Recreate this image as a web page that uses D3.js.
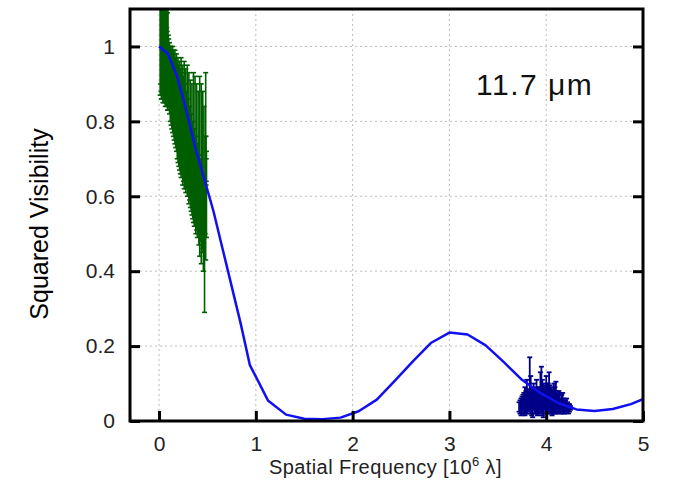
<!DOCTYPE html>
<html>
<head>
<meta charset="utf-8">
<script src="https://cdn.jsdelivr.net/npm/d3@7"></script>
<style>
  body { margin: 0; background: #fff; }
  svg { display: block; }
</style>
</head>
<body>
<div id="chart"></div>
<script>
// Model curve (squared visibility vs spatial frequency, 10^6 lambda)
const modelFreq = [0, 0.09375, 0.1875, 0.28125, 0.375, 0.46875, 0.5625, 0.65625, 0.75, 0.84375, 0.9375, 1.125,
    1.3125, 1.5, 1.6875, 1.875, 2.0625, 2.25, 2.4375, 2.625, 2.8125, 3.0, 3.1875, 3.375, 3.5625, 3.75, 3.9375,
    4.125, 4.3125, 4.5, 4.6875, 4.875, 5.0625];
const modelV2 = [1.0, 0.98, 0.92, 0.83, 0.73, 0.645, 0.56, 0.46, 0.36, 0.26, 0.15, 0.055, 0.017, 0.006, 0.005,
    0.009, 0.026, 0.057, 0.108, 0.16, 0.209, 0.236, 0.231, 0.202, 0.157, 0.11, 0.075, 0.048, 0.031, 0.027, 0.032,
    0.045, 0.065];

// Short baseline measurements (green), each as low / high end of the error bar
const greenFreq = [0.012, 0.016, 0.020, 0.024, 0.028, 0.032, 0.036, 0.040, 0.044, 0.048, 0.052, 0.056, 0.060,
    0.064, 0.068, 0.072, 0.076, 0.080, 0.084, 0.088, 0.092, 0.096, 0.100, 0.108, 0.116, 0.124, 0.132, 0.140, 0.148,
    0.156, 0.164, 0.172, 0.180, 0.188, 0.196, 0.204, 0.212, 0.220, 0.228, 0.236, 0.244, 0.252, 0.260, 0.268, 0.276,
    0.284, 0.292, 0.300, 0.308, 0.316, 0.324, 0.332, 0.340, 0.348, 0.356, 0.364, 0.372, 0.380, 0.388, 0.396, 0.404,
    0.412, 0.420, 0.428, 0.436, 0.444, 0.452, 0.458, 0.464, 0.470, 0.476, 0.482, 0.486, 0.488, 0.490];
const greenLo = [0.87, 0.90, 0.88, 0.86, 0.86, 0.89, 0.90, 0.85, 0.87, 0.86, 0.85, 0.87, 0.88, 0.84, 0.86, 0.85,
    0.84, 0.86, 0.85, 0.83, 0.83, 0.84, 0.84, 0.82, 0.80, 0.79, 0.78, 0.77, 0.76, 0.75, 0.74, 0.73, 0.72, 0.70,
    0.69, 0.68, 0.67, 0.66, 0.65, 0.66, 0.63, 0.64, 0.62, 0.63, 0.61, 0.62, 0.60, 0.61, 0.58, 0.59, 0.57, 0.56,
    0.55, 0.54, 0.53, 0.52, 0.53, 0.50, 0.51, 0.49, 0.50, 0.47, 0.44, 0.48, 0.42, 0.45, 0.46, 0.40, 0.49, 0.29,
    0.50, 0.43, 0.63, 0.64, 0.49];
const greenHi = [1.15, 1.13, 1.12, 1.15, 1.14, 1.12, 1.10, 1.14, 1.13, 1.11, 1.08, 1.13, 1.12, 1.09, 1.06, 1.10,
    1.11, 1.05, 1.04, 1.09, 1.10, 1.03, 1.02, 1.01, 1.00, 1.00, 0.99, 1.00, 0.99, 0.98, 0.99, 0.97, 0.98, 0.96,
    0.97, 0.95, 0.96, 0.94, 0.97, 0.93, 0.95, 0.92, 0.96, 0.90, 0.94, 0.88, 0.95, 0.86, 0.93, 0.84, 0.91, 0.82,
    0.90, 0.80, 0.93, 0.78, 0.92, 0.76, 0.90, 0.74, 0.88, 0.71, 0.92, 0.70, 0.90, 0.68, 0.88, 0.66, 0.84, 0.62,
    0.76, 0.93, 0.76, 0.70, 0.72];

// Long baseline measurements (navy)
const navyFreq = [3.72, 3.73, 3.74, 3.75, 3.76, 3.77, 3.78, 3.79, 3.80, 3.81, 3.82, 3.83, 3.84, 3.85, 3.86, 3.87,
    3.88, 3.89, 3.90, 3.91, 3.92, 3.93, 3.94, 3.95, 3.96, 3.97, 3.98, 3.99, 4.00, 4.01, 4.02, 4.03, 4.04, 4.05,
    4.06, 4.07, 4.08, 4.09, 4.10, 4.11, 4.12, 4.13, 4.14, 4.15, 4.16, 4.17, 4.18, 4.19, 4.20, 4.21, 4.22, 4.23,
    4.24, 4.25];
const navyLo = [0.025, 0.02, 0.015, 0.02, 0.03, 0.02, 0.015, 0.02, 0.02, 0.03, 0.025, 0.03, 0.02, 0.015, 0.01,
    0.03, 0.02, 0.02, 0.025, 0.015, 0.02, 0.03, 0.02, 0.025, 0.015, 0.01, 0.03, 0.02, 0.02, 0.025, 0.03, 0.03,
    0.02, 0.02, 0.015, 0.02, 0.025, 0.02, 0.02, 0.025, 0.03, 0.02, 0.025, 0.02, 0.03, 0.025, 0.02, 0.02, 0.025,
    0.025, 0.03, 0.02, 0.025, 0.03];
const navyHi = [0.05, 0.055, 0.06, 0.065, 0.07, 0.075, 0.09, 0.08, 0.11, 0.085, 0.08, 0.17, 0.12, 0.085, 0.09,
    0.10, 0.08, 0.08, 0.11, 0.09, 0.09, 0.085, 0.13, 0.145, 0.11, 0.10, 0.09, 0.095, 0.12, 0.10, 0.10, 0.13,
    0.095, 0.09, 0.085, 0.08, 0.10, 0.09, 0.105, 0.08, 0.07, 0.08, 0.075, 0.06, 0.07, 0.075, 0.06, 0.05, 0.055,
    0.06, 0.05, 0.045, 0.045, 0.04];

// Axis ticks
const xTicks = [0, 1, 2, 3, 4, 5];
const yTicks = [0, 0.2, 0.4, 0.6, 0.8, 1];

const width = 676;
const height = 497;
const margin = { top: 9, left: 130, bottom: 76, right: 33 };

const svg = d3.select("#chart").append("svg")
    .attr("width", width)
    .attr("height", height);

const x = d3.scaleLinear().domain([-0.3, 5]).range([margin.left, width - margin.right]);
const y = d3.scaleLinear().domain([0, 1.1]).range([height - margin.bottom, margin.top]);

// clip everything that is drawn inside the frame
svg.append("clipPath").attr("id", "plotClip")
    .append("rect")
    .attr("x", margin.left).attr("y", margin.top)
    .attr("width", x.range()[1] - x.range()[0])
    .attr("height", y.range()[0] - y.range()[1]);

// dotted grid
const grid = svg.append("g").attr("stroke", "#bdbdbd").attr("stroke-width", 1).attr("stroke-dasharray", "2,3");
grid.selectAll("line.gx")
    .data(xTicks)
    .join("line")
    .attr("class", "gx")
    .attr("x1", d => x(d)).attr("x2", d => x(d))
    .attr("y1", y.range()[1]).attr("y2", y.range()[0]);
grid.selectAll("line.gy")
    .data(yTicks)
    .join("line")
    .attr("class", "gy")
    .attr("x1", x.range()[0]).attr("x2", x.range()[1])
    .attr("y1", d => y(d)).attr("y2", d => y(d));

const plot = svg.append("g").attr("clip-path", "url(#plotClip)");

// error bars: vertical line plus small caps
function errorBars(freq, lo, hi, colour, strokeWidth, capHalf)
{
    const pts = freq.map((f, i) => ({ f, lo: lo[i], hi: hi[i] }));
    const g = plot.append("g").attr("stroke", colour).attr("stroke-width", strokeWidth);
    g.selectAll("line.bar")
        .data(pts)
        .join("line")
        .attr("class", "bar")
        .attr("x1", d => x(d.f)).attr("x2", d => x(d.f))
        .attr("y1", d => y(d.lo)).attr("y2", d => y(d.hi));
    g.selectAll("line.capLo")
        .data(pts)
        .join("line")
        .attr("class", "capLo")
        .attr("x1", d => x(d.f) - capHalf).attr("x2", d => x(d.f) + capHalf)
        .attr("y1", d => y(d.lo)).attr("y2", d => y(d.lo));
    g.selectAll("line.capHi")
        .data(pts)
        .join("line")
        .attr("class", "capHi")
        .attr("x1", d => x(d.f) - capHalf).attr("x2", d => x(d.f) + capHalf)
        .attr("y1", d => y(d.hi)).attr("y2", d => y(d.hi));
}

errorBars(greenFreq, greenLo, greenHi, "#005f00", 1.6, 2.5);
errorBars(navyFreq, navyLo, navyHi, "#000088", 1.8, 2.5);

// model curve on top
const line = d3.line()
    .x((d, i) => x(modelFreq[i]))
    .y(d => y(d));

plot.append("path")
    .datum(modelV2)
    .attr("d", line)
    .attr("fill", "none")
    .attr("stroke", "#1010f0")
    .attr("stroke-width", 2.5)
    .attr("stroke-linejoin", "round");

// axes with inward ticks
const tickStyle = g => {
    g.select(".domain").remove();
    g.selectAll(".tick line").attr("stroke", "#000").attr("stroke-width", 3);
    g.selectAll(".tick text")
        .attr("fill", "#222")
        .style("font-family", "'Liberation Sans', Arial, sans-serif")
        .style("font-size", "21px");
};

svg.append("g")
    .attr("transform", `translate(0, ${y.range()[0]})`)
    .call(d3.axisBottom(x).tickValues(xTicks).tickFormat(d3.format("d")).tickSizeInner(-10).tickPadding(15))
    .call(tickStyle);

svg.append("g")
    .attr("transform", `translate(${x.range()[0]}, 0)`)
    .call(d3.axisLeft(y).tickValues(yTicks).tickFormat(d => d === 0 || d === 1 ? d : d.toFixed(1)).tickSizeInner(-10).tickPadding(15))
    .call(tickStyle);

svg.append("g")
    .attr("transform", `translate(${x.range()[1]}, 0)`)
    .call(d3.axisRight(y).tickValues(yTicks).tickFormat("").tickSizeInner(-10))
    .call(tickStyle);

// frame
svg.append("rect")
    .attr("x", x.range()[0]).attr("y", y.range()[1])
    .attr("width", x.range()[1] - x.range()[0])
    .attr("height", y.range()[0] - y.range()[1])
    .attr("fill", "none")
    .attr("stroke", "#000")
    .attr("stroke-width", 3);

// labels
svg.append("text")
    .attr("x", (x.range()[0] + x.range()[1]) / 2 - 1)
    .attr("y", 474)
    .attr("text-anchor", "middle")
    .attr("fill", "#222")
    .style("font-family", "'Liberation Sans', Arial, sans-serif")
    .style("font-size", "20px")
    .style("letter-spacing", "0.4px")
    .html("Spatial Frequency [10<tspan dy='-8' font-size='13px'>6</tspan><tspan dy='8'> λ]</tspan>");

svg.append("text")
    .attr("transform", "translate(48, 224) rotate(-90)")
    .attr("text-anchor", "middle")
    .attr("fill", "#000")
    .style("font-family", "'Liberation Sans', Arial, sans-serif")
    .style("font-size", "25px")
    .text("Squared Visibility");

svg.append("text")
    .attr("x", 476)
    .attr("y", 95)
    .attr("fill", "#111")
    .style("font-family", "'Liberation Sans', Arial, sans-serif")
    .style("font-size", "30px")
    .style("letter-spacing", "1.5px")
    .text("11.7 μm");
</script>
</body>
</html>
